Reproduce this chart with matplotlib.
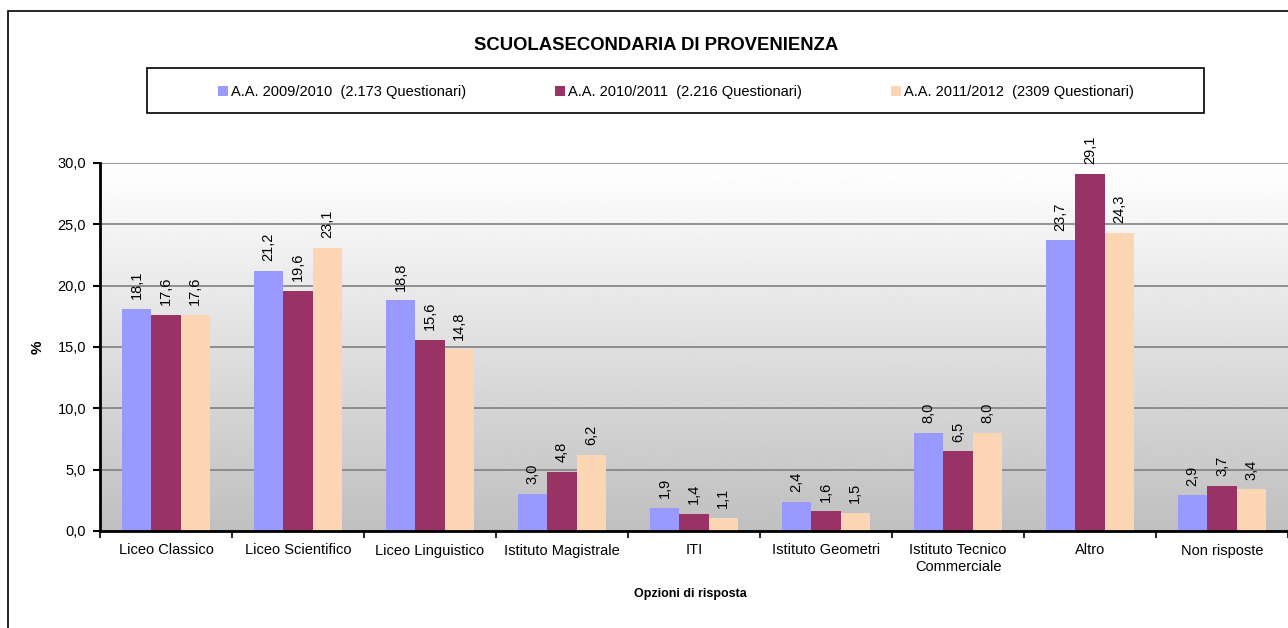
import matplotlib
matplotlib.use("Agg")
import matplotlib.pyplot as plt
import numpy as np
from matplotlib.patches import Rectangle
from matplotlib.ticker import FuncFormatter, FixedLocator

plt.rcParams['font.family'] = ['Liberation Sans', 'DejaVu Sans']

categories = ["Liceo Classico", "Liceo Scientifico", "Liceo Linguistico",
              "Istituto Magistrale", "ITI", "Istituto Geometri",
              "Istituto Tecnico\nCommerciale", "Altro", "Non risposte"]
series_names = ["A.A. 2009/2010  (2.173 Questionari)",
                "A.A. 2010/2011  (2.216 Questionari)",
                "A.A. 2011/2012  (2309 Questionari)"]
s2009 = [18.1, 21.2, 18.8, 3.0, 1.9, 2.4, 8.0, 23.7, 2.9]
s2010 = [17.6, 19.6, 15.6, 4.8, 1.4, 1.6, 6.5, 29.1, 3.7]
s2011 = [17.6, 23.1, 14.8, 6.2, 1.1, 1.5, 8.0, 24.3, 3.4]
colors = ["#9999FF", "#993366", "#FCD5B5"]

W, H = 1288, 628
fig = plt.figure(figsize=(W / 100, H / 100), dpi=100)
ax = fig.add_axes([100 / W, 1 - 531 / H, (W - 100) / W, (531 - 163) / H])

n = len(categories)
x = np.arange(n)
bw = 1 / 4.5
ax.set_xlim(-0.5, n - 0.5)
ax.set_ylim(0, 30)

# gradient background
grad = np.linspace(1.0, 0.75, 256).reshape(-1, 1)
ax.imshow(grad, cmap='gray', vmin=0, vmax=1, aspect='auto',
          extent=(-0.5, n - 0.5, 0, 30), origin='upper', zorder=0)

ax.yaxis.set_major_locator(FixedLocator([0, 5, 10, 15, 20, 25, 30]))
ax.grid(axis='y', color='#808080', linewidth=1.2, zorder=1)
ax.set_axisbelow(True)

for i, (vals, c, name) in enumerate(zip([s2009, s2010, s2011], colors, series_names)):
    pos = x + (i - 1) * bw
    ax.bar(pos, vals, width=bw, color=c, label=name, zorder=2, edgecolor='none')
    for p, v in zip(pos, vals):
        ax.annotate(f"{v:.1f}".replace('.', ','), (p, v), xytext=(0, 7),
                    textcoords='offset points', rotation=90, ha='center',
                    va='bottom', fontsize=10.5, annotation_clip=False, zorder=3)

ax.yaxis.set_major_formatter(FuncFormatter(lambda v, _: f"{v:.1f}".replace('.', ',')))
ax.set_xticks(np.arange(-0.5, n, 1.0))
ax.set_xticklabels([])
ax.set_xticks(x, minor=True)
ax.set_xticklabels(categories, minor=True, fontsize=10.5)
ax.tick_params(axis='x', which='minor', length=0, pad=9)
ax.tick_params(axis='x', which='major', length=5, width=1.2, direction='out')
ax.tick_params(axis='y', length=5, width=1.5, labelsize=10.5, pad=5)

for s in ['top', 'right']:
    ax.spines[s].set_visible(False)
ax.spines['left'].set_linewidth(2)
ax.spines['bottom'].set_linewidth(2)

ax.set_ylabel('%', fontsize=11, fontweight='bold')
ax.yaxis.set_label_coords(-55 / (W - 100), 0.5)
ax.set_xlabel('Opzioni di risposta', fontsize=9, fontweight='bold')
ax.xaxis.set_label_coords((690 - 100) / (W - 100), -(588 - 531) / (531 - 163))

fig.text(656 / W, 1 - 45 / H, 'SCUOLASECONDARIA DI PROVENIENZA', ha='center',
         va='center', fontsize=13.3, fontweight='bold')

# outer chart frame
fig.patches.append(Rectangle((8 / W, -0.1), 1.2, 1 - 11 / H + 0.1,
                             transform=fig.transFigure, fill=False,
                             edgecolor='black', linewidth=1.2))
# legend box
fig.patches.append(Rectangle((147 / W, 1 - 113 / H), (1204 - 147) / W, 45 / H,
                             transform=fig.transFigure, fill=False,
                             edgecolor='black', linewidth=1.2))
handles, labels = ax.get_legend_handles_labels()
fig.legend(handles, labels, loc='center', bbox_to_anchor=(676 / W, 1 - 92 / H),
           ncol=3, frameon=False, fontsize=10.5, handlelength=0.7,
           handleheight=0.7, handletextpad=0.2, columnspacing=6.1)

fig.savefig('out.png', dpi=100)
